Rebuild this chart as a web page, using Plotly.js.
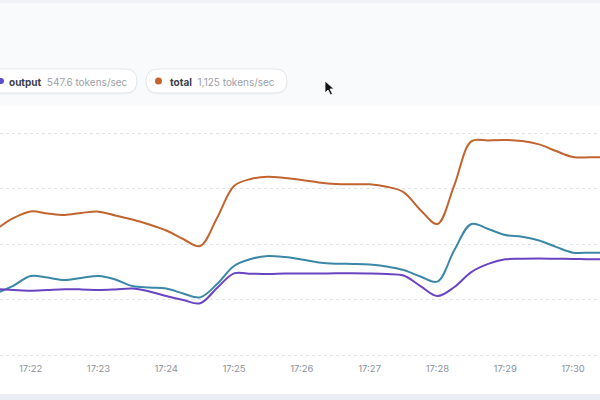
<!DOCTYPE html>
<html>
<head>
<meta charset="utf-8">
<script src="https://cdn.plot.ly/plotly-3.0.1.min.js"></script>
<style>
  html, body { margin: 0; padding: 0; background: #ffffff; }
  #chart { width: 600px; height: 400px; }
</style>
</head>
<body>
<div id="chart"></div>
<script>
// ---- data (tokens/sec, sampled every 15 s) ----
const times = [
  "17:21:30","17:21:45","17:22:00","17:22:15","17:22:30","17:22:45",
  "17:23:00","17:23:15","17:23:30","17:23:45","17:24:00","17:24:15",
  "17:24:30","17:24:45","17:25:00","17:25:15","17:25:30","17:25:45",
  "17:26:00","17:26:15","17:26:30","17:26:45","17:27:00","17:27:15",
  "17:27:30","17:27:45","17:28:00","17:28:15","17:28:30","17:28:45",
  "17:29:00","17:29:15","17:29:30","17:29:45","17:30:00","17:30:15","17:30:30"
];
const totalTps = [682,742,777,766,758,769,776,755,733,706,674,628,590,742,915,953,965,958,947,934,926,924,924,911,882,785,709,920,1156,1161,1164,1158,1140,1104,1072,1070,1070];
const inputTps = [336,376,428,419,406,417,428,409,373,365,360,333,312,384,482,520,536,530,517,501,494,493,490,479,460,425,397,568,709,682,650,640,620,585,554,554,554];
const outputTps = [357,352,348,352,356,355,352,355,360,344,319,298,280,363,442,440,438,441,441,441,442,442,441,438,430,373,319,368,449,493,518,521,522,521,520,518,518];

const pillLabels = ["output", "total"];
const pillValues = ["547.6 tokens/sec", "1,125 tokens/sec"];

// ---- styling ----
const DAY = "2024-01-01 ";
const xs = times.map(t => DAY + t);
const C_TOTAL = "#c2642f", C_INPUT = "#3b87a8", C_OUTPUT = "#6a44c2";
const FONT = "Inter, 'Open Sans', sans-serif";

const W = 600, H = 400, ML = 0, MR = 0, MT = 105, MB = 40;
const PW = W - ML - MR, PH = H - MT - MB;
const X = px => (px - ML) / PW;
const Y = py => (H - MB - py) / PH;

function roundRect(x0, y0, x1, y1, r) {
  const p = (x, y) => X(x).toFixed(5) + "," + Y(y).toFixed(5);
  return "M" + p(x0 + r, y0) + " L" + p(x1 - r, y0) + " Q" + p(x1, y0) + " " + p(x1, y0 + r) +
         " L" + p(x1, y1 - r) + " Q" + p(x1, y1) + " " + p(x1 - r, y1) +
         " L" + p(x0 + r, y1) + " Q" + p(x0, y1) + " " + p(x0, y1 - r) +
         " L" + p(x0, y0 + r) + " Q" + p(x0, y0) + " " + p(x0 + r, y0) + " Z";
}
function poly(pts) {
  return "M" + pts.map(q => X(q[0]).toFixed(5) + "," + Y(q[1]).toFixed(5)).join(" L") + " Z";
}

const pills = [[-20, 69, 137, 93], [146, 69, 287, 93]];
const shapes = [
  {type: "rect", xref: "paper", yref: "paper", x0: 0, x1: 1, y0: Y(106), y1: Y(0),
   fillcolor: "#f9fafb", line: {width: 0}, layer: "below"},
  {type: "rect", xref: "paper", yref: "paper", x0: 0, x1: 1, y0: Y(3), y1: Y(0),
   fillcolor: "#f1f2f5", line: {width: 0}, layer: "below"},
  {type: "rect", xref: "paper", yref: "paper", x0: 0, x1: 1, y0: Y(400), y1: Y(394),
   fillcolor: "#eceef6", line: {width: 0}, layer: "below"}
];
pills.forEach(b => {
  shapes.push({type: "path", xref: "paper", yref: "paper", path: roundRect(b[0], b[1] + 1.5, b[2], b[3] + 1.5, 12),
               fillcolor: "#eef0f3", line: {width: 0}, layer: "below"});
  shapes.push({type: "path", xref: "paper", yref: "paper", path: roundRect(b[0], b[1], b[2], b[3], 12),
               fillcolor: "#ffffff", line: {color: "#e4e6eb", width: 1}, layer: "below"});
});
const dots = [[1, 81, 3, "#5a4fcf"], [158.5, 81, 3.5, C_TOTAL]];
dots.forEach(d => shapes.push({type: "circle", xref: "paper", yref: "paper",
  x0: X(d[0] - d[2]), x1: X(d[0] + d[2]), y0: Y(d[1] + d[2]), y1: Y(d[1] - d[2]),
  fillcolor: d[3], line: {width: 0}}));
// mouse cursor
const cx = 325, cy = 81;
shapes.push({type: "path", xref: "paper", yref: "paper",
  path: poly([[cx, cy], [cx, cy + 12], [cx + 3, cy + 9], [cx + 5.5, cy + 14], [cx + 7.5, cy + 13], [cx + 5, cy + 8], [cx + 9, cy + 8]]),
  fillcolor: "#111111", line: {color: "#ffffff", width: 0.8}});

const textX = [7, 168];
const annotations = pillLabels.map((lab, i) => ({
  xref: "paper", yref: "paper", x: X(textX[i]), y: Y(81.5), xanchor: "left", yanchor: "middle",
  showarrow: false, align: "left",
  text: "<b>" + lab + "</b>  <span style='color:#9ba0a8'>" + pillValues[i] + "</span>",
  font: {family: FONT, size: 10, color: "#3b3f4a"}
}));

const line = (y, color) => ({
  x: xs, y: y, type: "scatter", mode: "lines",
  line: {color: color, width: 2, shape: "spline", smoothing: 1},
  hoverinfo: "skip"
});

const data = [line(inputTps, C_INPUT), line(outputTps, C_OUTPUT), line(totalTps, C_TOTAL)];

const k = 221.7 / 1200; // px per unit
const layout = {
  width: W, height: H,
  margin: {l: ML, r: MR, t: MT, b: MB, pad: 0},
  paper_bgcolor: "#ffffff", plot_bgcolor: "#ffffff",
  showlegend: false, hovermode: false,
  font: {family: FONT},
  xaxis: {
    type: "date",
    range: [DAY + "17:21:32.9", DAY + "17:30:23.9"],
    tickformat: "%H:%M", dtick: 60000, tick0: DAY + "17:22:00",
    showgrid: false, zeroline: false, showline: false, ticks: "",
    tickfont: {family: FONT, size: 9.5, color: "#8d929b"},
    ticklabelstandoff: 1
  },
  yaxis: {
    range: [-(360 - 355) / k, (355 - 105) / k],
    dtick: 300, tick0: 0, showticklabels: false,
    showgrid: true, gridcolor: "#e2e4e8", griddash: "dot", gridwidth: 1,
    zeroline: false, showline: false, ticks: ""
  },
  shapes: shapes,
  annotations: annotations
};

Plotly.newPlot("chart", data, layout, {displayModeBar: false, staticPlot: true});
</script>
</body>
</html>
